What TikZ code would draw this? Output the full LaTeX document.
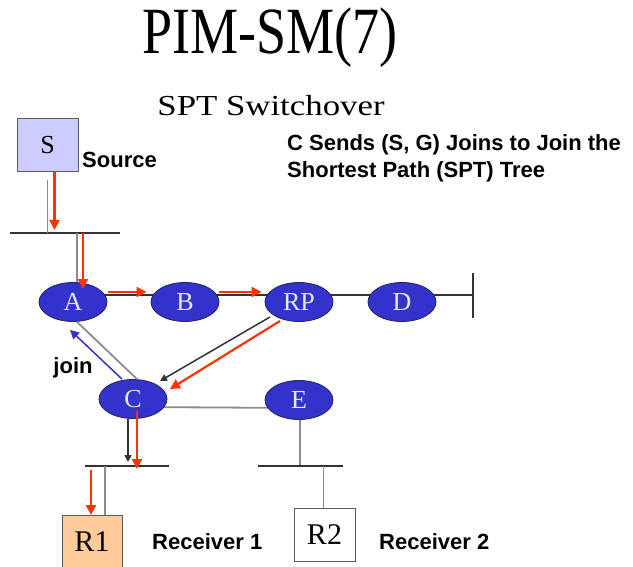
\documentclass[tikz,border=0pt]{standalone}
\usepackage{fontspec}
\setmainfont{Liberation Serif}
\newfontfamily\labelsans{Liberation Sans}
\usetikzlibrary{shapes.geometric,arrows.meta,backgrounds}
\definecolor{routerblue}{HTML}{3333CC}
\definecolor{routerline}{HTML}{222266}
\definecolor{routertext}{HTML}{E8E8FF}
\definecolor{sourcefill}{HTML}{CCCCFF}
\definecolor{recvfill}{HTML}{FFCC99}
\definecolor{sptred}{HTML}{FF3300}
\definecolor{joinblue}{HTML}{3333CC}
\definecolor{linkgray}{HTML}{8C8C8C}
\definecolor{lanblack}{HTML}{333333}
\begin{document}
\begin{tikzpicture}[x=1pt, y=-1pt,
  router/.style={ellipse, draw=routerline, line width=0.8pt, fill=routerblue, text=routertext,
                 minimum width=68pt, minimum height=39pt, inner sep=0pt, font=\fontsize{26}{26}\selectfont},
  host/.style={draw=lanblack!80, line width=1pt, minimum width=60pt, minimum height=52pt,
               inner sep=0pt, font=\fontsize{30}{30}\selectfont},
  lan/.style={draw=lanblack, line width=2.2pt},
  link/.style={draw=linkgray, line width=1.8pt},
  spt/.style={draw=sptred, line width=2.2pt, -{Triangle[length=10pt,width=10pt]}},
  shared/.style={draw=lanblack, line width=1.5pt, -{Triangle[length=7pt,width=7pt]}},
  joinmsg/.style={draw=joinblue, line width=1.5pt, -{Triangle[length=9pt,width=9pt]}},
  lbl/.style={font=\labelsans\bfseries\fontsize{22}{27}\selectfont, inner sep=0pt}]
  \useasboundingbox (0,0) rectangle (633,567);
  % titles
  \node[font=\fontsize{66}{66}\selectfont, xscale=0.82, transform shape] (title) at (270,38) {PIM-SM(7)};
  \node[font=\fontsize{29}{29}\selectfont, xscale=1.2, transform shape] (subtitle) at (271,106) {SPT Switchover};
  % hosts
  \node[host, fill=sourcefill, minimum width=61pt, minimum height=53pt, font=\fontsize{26}{26}\selectfont] (S) at (47.5,145.5) {S};
  \node[host, fill=recvfill] (R1) at (92,541.5) {R1};
  \node[host, fill=white, minimum width=61pt, minimum height=53pt] (R2) at (324.5,534.5) {R2};
  % routers
  \node[router] (A) at (73,302) {A};
  \node[router] (B) at (185,302) {B};
  \node[router] (RP) at (299,302) {RP};
  \node[router] (D) at (402,302) {D};
  \node[router] (C) at (133,399) {C};
  \node[router] (E) at (299,400) {E};
  % LAN segments
  \coordinate (lan1w) at (10,233);  \coordinate (lan1e) at (120,233);
  \coordinate (lan2w) at (85,466);  \coordinate (lan2e) at (169,466);
  \coordinate (lan3w) at (258,466); \coordinate (lan3e) at (343,466);
  \coordinate (stub) at (473,295);
  \draw[lan] (lan1w) -- (lan1e);
  \draw[lan] (lan2w) -- (lan2e);
  \draw[lan] (lan3w) -- (lan3e);
  \draw[lan] ([yshift=22pt]stub) -- ([yshift=-23pt]stub);
  % links
  \begin{scope}[on background layer]
    \draw[lan, line width=1.6pt] ([shift={(0,-7)}]A.center) -- (stub);
    \draw[link] ([shift={(0,8)}]C.center) -- ([shift={(0,8)}]E.center);
    \draw[link] ([xshift=1pt]E.center) -- ([xshift=1pt]E.center |- lan3w);
  \end{scope}
  \draw[link] ([shift={(0,8)}]S.south) -- (S.south |- lan1w);
  \draw[link] ([xshift=4pt]A.north |- lan1w) -- ([xshift=4pt]A.north);
  \draw[link] ([xshift=4pt]A.south) -- ([xshift=4pt]C.north);
  \draw[link] ([xshift=13pt]R1.north |- lan2w) -- ([xshift=13pt]R1.north);
  \draw[link] ([xshift=-1pt]R2.north |- lan3w) -- ([xshift=-1pt]R2.north);
  % shared tree from RP
  \draw[shared] ([shift={(-29,15)}]RP.center) -- ([shift={(27,-18)}]C.center);
  \draw[shared] ([xshift=-5pt]C.south) -- ([shift={(-5,63)}]C.center);
  % join towards A
  \draw[joinmsg] ([xshift=-11pt]C.north) -- ([shift={(-3,8)}]A.south);
  % shortest path tree
  \draw[spt] ([xshift=7pt]S.south) -- ([shift={(7,-3)}]S.south |- lan1w);
  \draw[spt] ([xshift=10pt]A.north |- lan1w) -- ([shift={(10,7)}]A.north);
  \draw[spt] ([shift={(1,-10)}]A.east) -- ([shift={(-4,-10)}]B.west);
  \draw[spt] ([shift={(0,-10)}]B.east) -- ([shift={(-3,-10)}]RP.west);
  \draw[spt] ([shift={(-19,19)}]RP.center) -- ([shift={(37,-10)}]C.center);
  \draw[spt] ([shift={(4,12)}]C.center) -- ([shift={(4,70)}]C.center);
  \draw[spt] ([shift={(-1,-45)}]R1.north) -- ([xshift=-1pt]R1.north);
  % labels
  \node[lbl, anchor=west] (srclbl) at (82,160) {Source};
  \node[lbl] (joinlbl) at (73,368) {join};
  \node[lbl, anchor=west] (r1lbl) at (152,542) {Receiver 1};
  \node[lbl, anchor=west] (r2lbl) at (379,542) {Receiver 2};
  \node[lbl, anchor=west, align=left] (note) at (287,158) {C Sends (S, G) Joins to Join the\\Shortest Path (SPT) Tree};
\end{tikzpicture}
\end{document}
